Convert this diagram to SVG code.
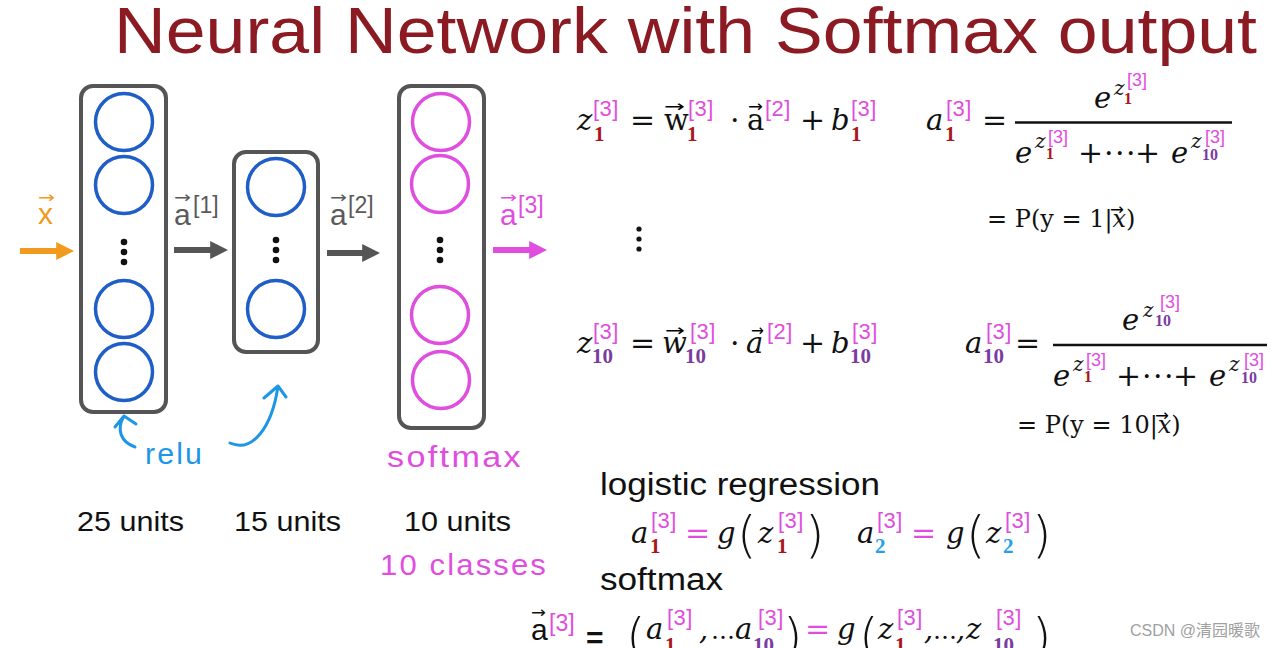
<svg xmlns="http://www.w3.org/2000/svg" width="1283" height="648" viewBox="0 0 1283 648">
<style>
.title{font-family:"Liberation Sans",Arial,sans-serif;font-size:64px;fill:#8b1a22}
.box{fill:none;stroke:#555;stroke-width:4}
.nb{fill:none;stroke:#1f5ec9;stroke-width:3.5}
.nm{fill:none;stroke:#e04ee0;stroke-width:3.5}
.dot{fill:#111}
.lab{font-family:"Liberation Sans",Arial,sans-serif;font-size:30px}
.lsup{font-family:"Liberation Sans",Arial,sans-serif;font-size:23px}
.acc{font-family:"DejaVu Sans",sans-serif;font-size:16px}
.units{font-family:"Liberation Sans",Arial,sans-serif;font-size:28px;fill:#111}
.hand{font-family:"Liberation Sans",Arial,sans-serif;font-size:29px;letter-spacing:2px}
.mi{font-family:"DejaVu Serif",serif;font-style:italic;font-size:29px;fill:#111}
.mu{font-family:"DejaVu Serif",serif;font-size:29px;fill:#111}
.mo{font-family:"DejaVu Serif",serif;font-size:30px;fill:#111}
.s3{font-family:"Liberation Sans",Arial,sans-serif;font-size:22px;letter-spacing:0.5px;fill:#e04ee0}
.sd{font-family:"Liberation Serif",serif;font-weight:bold;font-size:21px}
.red{fill:#a9161b}
.pur{fill:#7a3d9f}
.blu{fill:#1fa1ec}
.mag{fill:#e04ee0}
.ei{font-family:"DejaVu Serif",serif;font-style:italic;font-size:20px;fill:#111}
.es3{font-family:"Liberation Sans",Arial,sans-serif;font-size:18px;fill:#e04ee0}
.esd{font-family:"Liberation Serif",serif;font-weight:bold;font-size:16px}
.mdots{font-family:"DejaVu Serif",serif;font-size:30px;letter-spacing:1.5px;fill:#111}
.pl{font-family:"DejaVu Serif",serif;font-size:24px;fill:#111}
.par{font-family:"DejaVu Sans",sans-serif;font-weight:200;font-size:50px;fill:#111}
.ell{font-family:"DejaVu Serif",serif;font-size:24px;fill:#111}
.txt{font-family:"Liberation Sans",Arial,sans-serif;font-size:31px;fill:#111}
.frac{stroke:#111;stroke-width:2.5}
.wm{font-family:"Liberation Sans","Noto Sans CJK SC",sans-serif;font-size:16px;fill:#a0a0a0}
.conn{fill:none;stroke-width:6}
.curve{fill:none;stroke:#1e96e6;stroke-width:3;stroke-linecap:round;stroke-linejoin:round}
</style>
<defs>
<marker id="hO" viewBox="0 0 10 10" refX="1" refY="5" markerWidth="3" markerHeight="3" orient="auto" markerUnits="strokeWidth"><path d="M0,0 L10,5 L0,10 z" fill="#f29a1d"/></marker>
<marker id="hG" viewBox="0 0 10 10" refX="1" refY="5" markerWidth="3" markerHeight="3" orient="auto" markerUnits="strokeWidth"><path d="M0,0 L10,5 L0,10 z" fill="#555"/></marker>
<marker id="hM" viewBox="0 0 10 10" refX="1" refY="5" markerWidth="3" markerHeight="3" orient="auto" markerUnits="strokeWidth"><path d="M0,0 L10,5 L0,10 z" fill="#e04ee0"/></marker>
</defs>
<rect width="1283" height="648" fill="#ffffff"/>
<text class="title" x="114" y="53" textLength="1143" lengthAdjust="spacingAndGlyphs">Neural Network with Softmax output</text>

<g id="layer1">
<rect class="box" x="81" y="86" width="85" height="326" rx="12"/>
<circle class="nb" cx="124" cy="122" r="28.5"/>
<circle class="nb" cx="124" cy="185" r="28.5"/>
<circle class="dot" cx="124" cy="242" r="3.3"/><circle class="dot" cx="124" cy="252" r="3.3"/><circle class="dot" cx="124" cy="262" r="3.3"/>
<circle class="nb" cx="124" cy="309" r="28.5"/>
<circle class="nb" cx="124" cy="372" r="28.5"/>
<text class="units" x="77" y="531" textLength="107" lengthAdjust="spacingAndGlyphs">25 units</text>
</g>
<g id="layer2">
<rect class="box" x="234" y="152" width="84" height="200" rx="12"/>
<circle class="nb" cx="276" cy="187" r="28.5"/>
<circle class="dot" cx="276" cy="240" r="3.3"/><circle class="dot" cx="276" cy="250" r="3.3"/><circle class="dot" cx="276" cy="260" r="3.3"/>
<circle class="nb" cx="276" cy="309" r="28.5"/>
<text class="units" x="234" y="531" textLength="107" lengthAdjust="spacingAndGlyphs">15 units</text>
</g>
<g id="layer3">
<rect class="box" x="399" y="86" width="85" height="342" rx="12"/>
<circle class="nm" cx="441" cy="122" r="28.5"/>
<circle class="nm" cx="440" cy="184" r="28.5"/>
<circle class="dot" cx="440" cy="240" r="3.3"/><circle class="dot" cx="440" cy="250" r="3.3"/><circle class="dot" cx="440" cy="260" r="3.3"/>
<circle class="nm" cx="440" cy="315" r="28.5"/>
<circle class="nm" cx="441" cy="380" r="28.5"/>
<text class="units" x="404" y="531" textLength="107" lengthAdjust="spacingAndGlyphs">10 units</text>
</g>

<g id="labels">
<text class="lab" x="38" y="224" fill="#f29a1d">x</text>
<text class="acc" x="38" y="203" fill="#f29a1d" textLength="17" lengthAdjust="spacingAndGlyphs">→</text>
<text class="lab" x="174" y="225" fill="#5a5a5a">a</text>
<text class="acc" x="174" y="203" fill="#5a5a5a" textLength="17" lengthAdjust="spacingAndGlyphs">→</text>
<text class="lsup" x="193" y="213" fill="#5a5a5a">[1]</text>
<text class="lab" x="330" y="225" fill="#5a5a5a">a</text>
<text class="acc" x="330" y="203" fill="#5a5a5a" textLength="17" lengthAdjust="spacingAndGlyphs">→</text>
<text class="lsup" x="348" y="213" fill="#5a5a5a">[2]</text>
<text class="lab" x="500" y="225" fill="#e04ee0">a</text>
<text class="acc" x="500" y="203" fill="#e04ee0" textLength="17" lengthAdjust="spacingAndGlyphs">→</text>
<text class="lsup" x="518" y="213" fill="#e04ee0">[3]</text>
<text class="hand" x="145" y="464" fill="#1e96e6" textLength="59" lengthAdjust="spacingAndGlyphs">relu</text>
<text class="hand" x="387" y="467" fill="#e04ee0" textLength="136" lengthAdjust="spacingAndGlyphs">softmax</text>
<text class="hand" x="380" y="575" fill="#e04ee0" textLength="168" lengthAdjust="spacingAndGlyphs">10 classes</text>
</g>

<g id="connectors">
<line class="conn" x1="20" y1="251" x2="58" y2="251" stroke="#f29a1d" marker-end="url(#hO)"/>
<line class="conn" x1="174" y1="250" x2="212" y2="250" stroke="#555" marker-end="url(#hG)"/>
<line class="conn" x1="327" y1="253" x2="364" y2="253" stroke="#555" marker-end="url(#hG)"/>
<line class="conn" x1="493" y1="250" x2="531" y2="250" stroke="#e04ee0" marker-end="url(#hM)"/>
<path class="curve" d="M135,447 C121,442 116,430 124,416 M115,427 L124,416 L136,424"/>
<path class="curve" d="M230,443 C252,453 272,428 278,386 M264,398 L278,386 L286,397"/>
</g>

<g id="eq1">
<text class="mi" x="577" y="130">z</text>
<text class="s3" x="593" y="116">[3]</text>
<text class="sd red" x="594" y="141">1</text>
<text class="mo" x="630" y="130">=</text>
<text class="mu" x="664" y="130">w</text>
<text class="acc" x="664" y="112" textLength="21" lengthAdjust="spacingAndGlyphs">→</text>
<text class="s3" x="688" y="116">[3]</text>
<text class="sd red" x="687" y="141">1</text>
<text class="mo" x="730" y="130">·</text>
<text class="mu" x="747" y="130">a</text>
<text class="acc" x="748" y="112" textLength="15" lengthAdjust="spacingAndGlyphs">→</text>
<text class="s3" x="765" y="116">[2]</text>
<text class="mo" x="800" y="130">+</text>
<text class="mi" x="831" y="130">b</text>
<text class="s3" x="851" y="116">[3]</text>
<text class="sd red" x="851" y="141">1</text>
</g>

<g id="softmax1">
<text class="mi" x="926" y="130">a</text>
<text class="s3" x="946" y="116">[3]</text>
<text class="sd red" x="945" y="141">1</text>
<text class="mo" x="982" y="130">=</text>
<line class="frac" x1="1015" y1="122.5" x2="1232" y2="122.5"/>
<text class="mi" x="1094" y="108">e</text>
<text class="ei" x="1114" y="95">z</text>
<text class="esd red" x="1124" y="104">1</text>
<text class="es3" x="1127" y="86">[3]</text>
<text class="mi" x="1015" y="163">e</text>
<text class="ei" x="1035" y="148">z</text>
<text class="esd red" x="1046" y="159">1</text>
<text class="es3" x="1048" y="143">[3]</text>
<text class="mo" x="1078" y="163">+</text>
<text class="mdots" x="1104" y="163">···</text>
<text class="mo" x="1135" y="163">+</text>
<text class="mi" x="1171" y="163">e</text>
<text class="ei" x="1191" y="148">z</text>
<text class="esd pur" x="1202" y="160">10</text>
<text class="es3" x="1205" y="143">[3]</text>
<text class="pl" x="987" y="227">= P(y = 1|<tspan font-style="italic">x</tspan>)</text>
<text class="acc" x="1110" y="215" textLength="14" lengthAdjust="spacingAndGlyphs">→</text>
</g>

<g id="vdots">
<circle class="dot" cx="639" cy="229" r="2.6"/><circle class="dot" cx="639" cy="239" r="2.6"/><circle class="dot" cx="639" cy="249" r="2.6"/>
</g>

<g id="eq10">
<text class="mi" x="577" y="353">z</text>
<text class="s3" x="593" y="339">[3]</text>
<text class="sd pur" x="592" y="363">10</text>
<text class="mo" x="630" y="353">=</text>
<text class="mi" x="662" y="353">w</text>
<text class="acc" x="665" y="336" textLength="20" lengthAdjust="spacingAndGlyphs">→</text>
<text class="s3" x="690" y="339">[3]</text>
<text class="sd pur" x="685" y="363">10</text>
<text class="mo" x="730" y="353">·</text>
<text class="mi" x="746" y="353">a</text>
<text class="acc" x="751" y="336" textLength="13" lengthAdjust="spacingAndGlyphs">→</text>
<text class="s3" x="767" y="339">[2]</text>
<text class="mo" x="800" y="353">+</text>
<text class="mi" x="831" y="353">b</text>
<text class="s3" x="852" y="339">[3]</text>
<text class="sd pur" x="850" y="363">10</text>
</g>

<g id="softmax10">
<text class="mi" x="965" y="353">a</text>
<text class="s3" x="986" y="339">[3]</text>
<text class="sd pur" x="983" y="363">10</text>
<text class="mo" x="1015" y="353">=</text>
<line class="frac" x1="1053" y1="345" x2="1267" y2="345"/>
<text class="mi" x="1122" y="330">e</text>
<text class="ei" x="1143" y="317">z</text>
<text class="esd pur" x="1155" y="326">10</text>
<text class="es3" x="1160" y="308">[3]</text>
<text class="mi" x="1053" y="386">e</text>
<text class="ei" x="1073" y="371">z</text>
<text class="esd red" x="1084" y="382">1</text>
<text class="es3" x="1086" y="366">[3]</text>
<text class="mo" x="1116" y="386">+</text>
<text class="mdots" x="1142" y="386">···</text>
<text class="mo" x="1173" y="386">+</text>
<text class="mi" x="1209" y="386">e</text>
<text class="ei" x="1229" y="371">z</text>
<text class="esd pur" x="1241" y="383">10</text>
<text class="es3" x="1244" y="366">[3]</text>
<text class="pl" x="1017" y="433">= P(y = 10|<tspan font-style="italic">x</tspan>)</text>
<text class="acc" x="1155" y="421" textLength="14" lengthAdjust="spacingAndGlyphs">→</text>
</g>

<g id="logistic">
<text class="txt" x="600" y="495" textLength="280" lengthAdjust="spacingAndGlyphs">logistic regression</text>
<text class="mi" x="631" y="543">a</text>
<text class="s3" x="651" y="528">[3]</text>
<text class="sd red" x="650" y="553">1</text>
<text class="mo mag" x="685" y="543">=</text>
<text class="mi" x="717" y="543">g</text>
<text class="par" x="737" y="552">(</text>
<text class="mi" x="758" y="543">z</text>
<text class="s3" x="778" y="528">[3]</text>
<text class="sd red" x="777" y="553">1</text>
<text class="par" x="805" y="552">)</text>
<text class="mi" x="857" y="543">a</text>
<text class="s3" x="877" y="528">[3]</text>
<text class="sd blu" x="875" y="553">2</text>
<text class="mo mag" x="911" y="543">=</text>
<text class="mi" x="946" y="543">g</text>
<text class="par" x="966" y="552">(</text>
<text class="mi" x="986" y="543">z</text>
<text class="s3" x="1005" y="528">[3]</text>
<text class="sd blu" x="1003" y="553">2</text>
<text class="par" x="1032" y="552">)</text>
</g>

<g id="softmaxdef">
<text class="txt" x="600" y="590" textLength="123" lengthAdjust="spacingAndGlyphs">softmax</text>
<text class="lab" x="531" y="640" font-size="32" fill="#111">a</text>
<text class="acc" x="531" y="618" textLength="15" lengthAdjust="spacingAndGlyphs" fill="#111">→</text>
<text class="lsup" x="549" y="631" font-size="27" fill="#e04ee0">[3]</text>
<text class="lab" x="586" y="648" font-size="44" font-weight="bold" fill="#111">=</text>
<text class="par" x="626" y="654">(</text>
<text class="mi" x="646" y="639">a</text>
<text class="s3" x="667" y="625">[3]</text>
<text class="sd red" x="665" y="652">1</text>
<text class="mi" x="699" y="639">,</text>
<text class="ell" x="711" y="639">…</text>
<text class="mi" x="735" y="639">a</text>
<text class="s3" x="758" y="625">[3]</text>
<text class="sd pur" x="753" y="652">10</text>
<text class="par" x="783" y="654">)</text>
<text class="mo mag" x="805" y="639">=</text>
<text class="mi" x="837" y="639">g</text>
<text class="par" x="859" y="654">(</text>
<text class="mi" x="878" y="639">z</text>
<text class="s3" x="897" y="625">[3]</text>
<text class="sd red" x="895" y="652">1</text>
<text class="mi" x="924" y="639">,</text>
<text class="ell" x="933" y="639">…</text>
<text class="mi" x="956" y="639">,</text>
<text class="mi" x="966" y="639">z</text>
<text class="s3" x="996" y="625">[3]</text>
<text class="sd pur" x="993" y="652">10</text>
<text class="par" x="1032" y="654">)</text>
</g>

<text class="wm" x="1130" y="636">CSDN @清园暖歌</text>
</svg>
